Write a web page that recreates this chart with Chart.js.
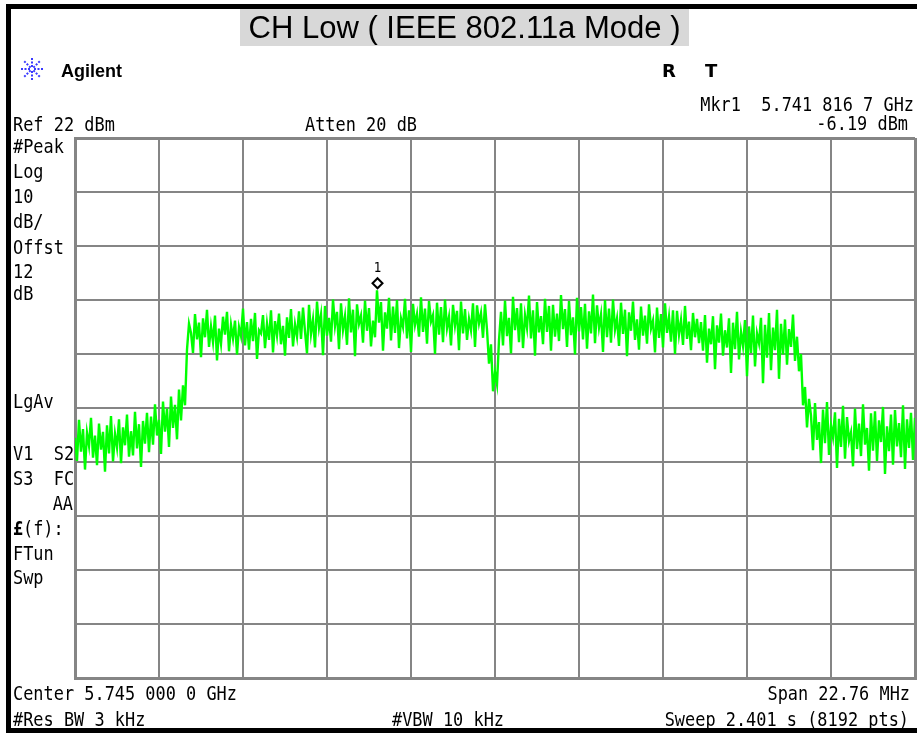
<!DOCTYPE html>
<html>
<head>
<meta charset="utf-8">
<title>CH Low ( IEEE 802.11a Mode )</title>
<script src="https://cdn.jsdelivr.net/npm/chart.js@4.4.1/dist/chart.umd.min.js"></script>
<style>
  html, body { margin: 0; padding: 0; background: #fff; }
  #wrap { position: relative; width: 917px; height: 733px; overflow: hidden; }
</style>
</head>
<body>
<div id="wrap"><canvas id="sa" width="917" height="733"></canvas></div>
<script>
// analyzer settings (MHz / dBm)
const centerMHz = 5745.0;
const spanMHz = 22.76;
const refLevel = 22;
const dbPerDiv = 10;
const markerMHz = 5741.8167;
const markerDbm = -6.19;

// trace from left to right (dBm)
const leftSkirt = [
  -33.5, -37.8, -30.2, -36.1, -31.9, -39.4, -32.6, -35.0, -29.8, -37.2,
  -33.1, -38.6, -30.9, -35.7, -32.4, -39.8, -31.2, -36.4, -29.5, -37.9,
  -32.8, -35.3, -30.1, -38.2, -31.6, -34.9, -29.2, -37.0, -32.3, -36.8,
  -28.7, -35.5, -31.0, -38.9, -30.4, -34.6, -28.9, -36.2
];
const leftEdge = [
  -29.6, -34.8, -27.3, -33.1, -30.2, -36.5, -26.8, -32.4, -28.1, -35.2,
  -25.9, -31.7, -27.4, -33.8, -24.6, -30.3, -23.8, -27.5, -17.2, -12.4
];
const lowerBand = [
  -14.1, -17.8, -10.6, -15.3, -12.2, -18.6, -11.4, -14.9, -9.8, -16.7,
  -12.9, -15.8, -10.9, -19.2, -13.3, -16.1, -11.1, -14.4, -10.2, -17.5,
  -12.6, -15.1, -11.8, -18.1, -13.0, -14.7, -9.6, -16.4, -12.1, -17.2,
  -11.5, -15.6, -10.4, -18.9, -13.6, -14.2, -10.8, -16.9, -12.4, -15.4,
  -9.9, -17.7, -11.9, -14.6, -10.5, -16.2, -12.8, -18.3, -11.2, -15.0,
  -9.7, -16.6, -12.5, -14.8, -10.1
];
const upperBand = [
  -15.2, -9.4, -13.8, -17.9, -8.9, -14.3, -11.6, -16.8, -8.3, -13.1,
  -10.7, -18.2, -9.1, -14.6, -11.3, -15.7, -7.9, -12.8, -10.2, -17.1,
  -8.6, -13.5, -11.0, -16.3, -7.7, -14.0, -9.8, -18.4, -8.8, -12.4,
  -10.9, -15.9, -8.1, -13.7, -9.5, -16.6, -11.8, -14.9, -6.19, -12.2,
  -8.4, -17.4, -10.3, -13.3, -7.6, -15.5, -9.2, -14.1, -8.0, -16.9,
  -11.4, -13.0, -7.8, -15.1, -9.9, -17.6, -8.7, -12.6, -10.6, -14.8,
  -7.5, -13.9, -9.6, -16.1, -8.2, -12.0, -10.8, -18.0, -8.5, -14.4,
  -9.3, -15.8, -7.9, -13.2, -11.1, -16.4, -8.9, -12.7, -10.0, -17.3,
  -8.3, -14.2, -9.7, -15.4, -11.5, -13.6, -8.6, -16.7, -9.0, -12.3,
  -10.4, -15.0, -8.8
];
const centerDip = [-13.5, -19.8, -16.2, -24.9, -21.3, -23.6, -15.4];
const rightBand = [
  -10.2, -16.4, -8.1, -14.7, -11.3, -17.9, -7.4, -13.6, -9.5, -15.8,
  -8.6, -16.9, -10.8, -13.2, -7.2, -15.1, -9.9, -18.3, -8.4, -14.0,
  -11.0, -16.2, -7.8, -13.9, -9.1, -17.4, -8.9, -14.8, -10.5, -15.6,
  -7.1, -13.4, -9.7, -16.7, -8.2, -14.5, -11.2, -18.1, -7.6, -13.8,
  -9.3, -15.3, -8.7, -17.0, -10.1, -14.2, -7.0, -16.0, -9.0, -13.1,
  -10.7, -17.6, -8.0, -14.9, -9.6, -15.9, -7.9, -13.5, -11.4, -16.5,
  -8.5, -14.3, -9.8, -18.4, -10.3, -13.7, -8.3, -15.4, -11.6, -17.2,
  -9.2, -14.6, -10.9, -16.1, -8.8, -13.3, -11.8, -17.7, -9.4, -15.0,
  -10.6, -16.8, -8.6, -14.1, -11.1, -15.7, -9.9, -18.0, -10.0, -14.4,
  -11.7, -16.3, -9.1, -15.2, -12.0, -17.3, -10.4, -14.9, -11.5, -16.0
];
const rightShoulder = [
  -12.1, -17.4, -10.8, -19.6, -13.3, -16.2, -11.0, -20.8, -12.7, -15.9,
  -10.5, -18.3, -13.6, -16.8, -11.4, -21.5, -12.2, -17.1, -10.2, -19.0,
  -13.9, -16.5, -11.7, -22.1, -12.9, -17.8, -10.9, -20.3, -14.2, -16.0,
  -11.3, -23.4, -12.6, -18.7, -10.4, -21.0, -13.1, -17.3, -9.8, -22.6,
  -12.4, -18.1, -11.6, -20.0, -13.4, -16.7, -10.7, -19.3
];
const rightEdge = [-14.8, -21.2, -18.0, -27.5, -24.1, -31.6, -26.3];
const rightSkirt = [
  -29.4, -35.8, -27.1, -33.9, -30.6, -38.2, -28.3, -34.5, -26.9, -36.7,
  -31.2, -33.4, -28.8, -39.1, -30.0, -35.2, -27.6, -37.4, -29.7, -34.1,
  -32.5, -38.8, -28.1, -35.6, -30.9, -36.9, -27.3, -34.8, -31.7, -39.6,
  -29.0, -35.9, -28.6, -37.8, -30.3, -34.3, -27.8, -40.2, -31.4, -36.0,
  -29.2, -38.5, -28.4, -35.1, -30.8, -37.1, -27.5, -39.3, -30.1, -35.4,
  -28.9, -37.6, -29.8
];

// screen annotations: text, x, baseline, align
const panelText = [
  ['Ref 22 dBm', 13, 131, 'left'],
  ['Atten 20 dB', 305, 131, 'left'],
  ['Mkr1  5.741 816 7 GHz', 914, 111, 'right'],
  ['-6.19 dBm', 908, 130, 'right'],
  ['#Peak', 13, 153, 'left'],
  ['Log', 13, 178, 'left'],
  ['10', 13, 203, 'left'],
  ['dB/', 13, 228, 'left'],
  ['Offst', 13, 254, 'left'],
  ['12', 13, 278, 'left'],
  ['dB', 13, 300, 'left'],
  ['LgAv', 13, 408, 'left'],
  ['V1  S2', 13, 460, 'left'],
  ['S3  FC', 13, 485, 'left'],
  ['AA', 73, 510, 'right'],
  ['FTun', 13, 560, 'left'],
  ['Swp', 13, 584, 'left'],
  ['Center 5.745 000 0 GHz', 13, 700, 'left'],
  ['Span 22.76 MHz', 910, 700, 'right'],
  ['#Res BW 3 kHz', 13, 726, 'left'],
  ['#VBW 10 kHz', 392, 726, 'left'],
  ['Sweep 2.401 s (8192 pts)', 909, 726, 'right']
];

const trace = [].concat(leftSkirt, leftEdge, lowerBand, upperBand, centerDip,
  rightBand, rightShoulder, rightEdge, rightSkirt);
const startMHz = centerMHz - spanMHz / 2;
const stopMHz = centerMHz + spanMHz / 2;
const bottomLevel = refLevel - 10 * dbPerDiv;
const traceXY = trace.map((v, i) => ({ x: startMHz + i * spanMHz / (trace.length - 1), y: v }));
const xGrid = [...Array(11).keys()].map(k => startMHz + k * spanMHz / 10);
const yGrid = [...Array(11).keys()].map(k => bottomLevel + k * dbPerDiv);

const gridGray = '#858585';

function monoText(ctx, s, x, y, align) {
  ctx.save();
  ctx.translate(x, y);
  ctx.scale(0.89, 1.06);
  ctx.textAlign = align;
  ctx.fillText(s, 0, 0);
  ctx.restore();
}

// frame, logo and instrument text
const screenPlugin = {
  id: 'screen',
  beforeDraw(chart) {
    const ctx = chart.ctx;
    ctx.save();
    ctx.fillStyle = '#fff';
    ctx.fillRect(0, 0, chart.width, chart.height);
    ctx.fillStyle = '#000';
    ctx.fillRect(6, 4, chart.width - 6, 5);
    ctx.fillRect(6, 4, 5, chart.height - 4);
    ctx.fillRect(6, 728, chart.width - 6, 5);

    // title box
    ctx.font = '31px "Liberation Sans", Arial, sans-serif';
    const title = 'CH Low ( IEEE 802.11a Mode )';
    ctx.fillStyle = '#d8d8d8';
    ctx.fillRect(240, 9, 449, 37);
    ctx.fillStyle = '#000';
    ctx.textAlign = 'center';
    ctx.textBaseline = 'alphabetic';
    ctx.fillText(title, 464.5, 38);

    // Agilent logo
    ctx.strokeStyle = '#3a3aff';
    ctx.lineWidth = 2;
    ctx.setLineDash([2, 1.5]);
    for (let k = 0; k < 8; k++) {
      const a = k * Math.PI / 4;
      ctx.beginPath();
      ctx.moveTo(32 + 2 * Math.cos(a), 69 + 2 * Math.sin(a));
      ctx.lineTo(32 + 11 * Math.cos(a), 69 + 11 * Math.sin(a));
      ctx.stroke();
    }
    ctx.setLineDash([]);
    ctx.fillStyle = '#000';
    ctx.textAlign = 'left';
    ctx.font = 'bold 18px "Liberation Sans", Arial, sans-serif';
    ctx.fillText('Agilent', 61, 77);
    ctx.font = 'bold 18px "DejaVu Sans", sans-serif';
    ctx.fillText('R', 662, 77);
    ctx.fillText('T', 705, 77);

    ctx.font = '19px "DejaVu Sans Mono", monospace';
    panelText.forEach(t => monoText(ctx, t[0], t[1], t[2], t[3]));
    ctx.font = 'bold 19px "DejaVu Sans Mono", monospace';
    monoText(ctx, '£', 13, 535, 'left');
    ctx.font = '19px "DejaVu Sans Mono", monospace';
    monoText(ctx, '(f):', 23, 535, 'left');
    ctx.restore();
  },
  afterDatasetsDraw(chart) {
    const ctx = chart.ctx;
    const px = chart.scales.x.getPixelForValue(markerMHz);
    const py = chart.scales.y.getPixelForValue(markerDbm) - 7;
    ctx.save();
    ctx.strokeStyle = '#000';
    ctx.fillStyle = '#fff';
    ctx.lineWidth = 2;
    ctx.beginPath();
    ctx.moveTo(px, py - 5);
    ctx.lineTo(px + 5, py);
    ctx.lineTo(px, py + 5);
    ctx.lineTo(px - 5, py);
    ctx.closePath();
    ctx.fill();
    ctx.stroke();
    ctx.fillStyle = '#000';
    ctx.font = '14px "DejaVu Sans Mono", monospace';
    monoText(ctx, '1', px, py - 11, 'center');
    ctx.restore();
  }
};

const edgeWidth = c => (c.index === 0 || c.index === 10) ? 3 : 2;

new Chart(document.getElementById('sa').getContext('2d'), {
  type: 'line',
  data: {
    datasets: [{
      label: 'Trace 1',
      data: traceXY,
      borderColor: '#00ff00',
      borderWidth: 2.4,
      borderJoinStyle: 'miter',
      pointRadius: 0,
      tension: 0
    }]
  },
  options: {
    responsive: false,
    animation: false,
    devicePixelRatio: 1,
    layout: { padding: { left: 75, right: 2, top: 138, bottom: 55 } },
    plugins: { legend: { display: false }, tooltip: { enabled: false } },
    scales: {
      x: {
        type: 'linear',
        min: startMHz,
        max: stopMHz,
        afterBuildTicks: s => { s.ticks = xGrid.map(v => ({ value: v })); },
        ticks: { display: false },
        grid: { color: gridGray, lineWidth: edgeWidth, drawTicks: false },
        border: { display: true, color: gridGray, width: 3 }
      },
      y: {
        min: bottomLevel,
        max: refLevel,
        afterBuildTicks: s => { s.ticks = yGrid.map(v => ({ value: v })); },
        ticks: { display: false },
        grid: { color: gridGray, lineWidth: edgeWidth, drawTicks: false },
        border: { display: true, color: gridGray, width: 3 }
      }
    }
  },
  plugins: [screenPlugin]
});
</script>
</body>
</html>
